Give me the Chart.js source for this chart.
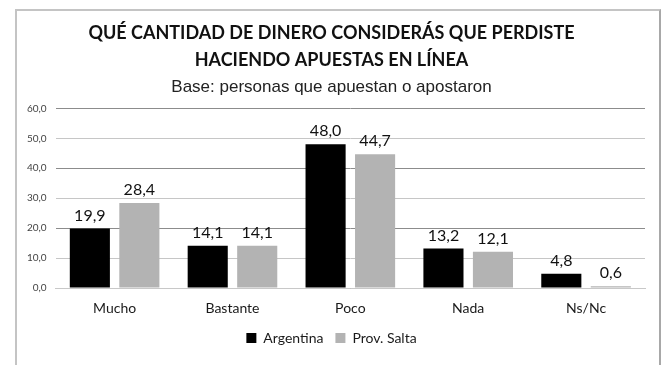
<!DOCTYPE html>
<html>
<head>
<meta charset="utf-8">
<script src="https://cdn.jsdelivr.net/npm/chart.js@4"></script>
<style>
  html, body { margin: 0; padding: 0; background: #fff; }
  #wrap { position: relative; width: 671px; height: 365px; }
  #frame {
    position: absolute; left: 15px; top: 9px; width: 642px; height: 360px;
    border-left: 2px solid #c4c4c4; border-top: 2px solid #c4c4c4; border-right: 2px solid #a8a8a8;
    pointer-events: none;
  }
</style>
</head>
<body>
<div id="wrap">
  <canvas id="chart" width="671" height="365"></canvas>
  <div id="frame"></div>
</div>
<script>
const categories = ["Mucho", "Bastante", "Poco", "Nada", "Ns/Nc"];
const argentina = [19.9, 14.1, 48.0, 13.2, 4.8];
const salta = [28.4, 14.1, 44.7, 12.1, 0.6];
const seriesNames = ["Argentina", "Prov. Salta"];
const titleLines = ["QUÉ CANTIDAD DE DINERO CONSIDERÁS QUE PERDISTE", "HACIENDO APUESTAS EN LÍNEA"];
const subtitleText = "Base: personas que apuestan o apostaron";

const fmt = v => v.toFixed(1).replace(".", ",");

// draws the value above each bar
const valueLabels = {
  id: "valueLabels",
  afterDatasetsDraw(chart) {
    const ctx = chart.ctx;
    ctx.save();
    ctx.font = "16px Lato";
    ctx.fillStyle = "#111";
    ctx.textAlign = "center";
    ctx.textBaseline = "bottom";
    chart.data.datasets.forEach((ds, i) => {
      chart.getDatasetMeta(i).data.forEach((bar, j) => {
        ctx.fillText(fmt(ds.data[j]), bar.x, bar.y - 5);
      });
    });
    ctx.restore();
  }
};

new Chart(document.getElementById("chart"), {
  type: "bar",
  data: {
    labels: categories,
    datasets: [
      { label: seriesNames[0], data: argentina, backgroundColor: "#000000" },
      { label: seriesNames[1], data: salta, backgroundColor: "#b3b3b3" }
    ]
  },
  options: {
    responsive: false,
    animation: false,
    devicePixelRatio: 1,
    categoryPercentage: 0.84,
    barPercentage: 0.81,
    layout: { padding: { left: 18, right: 26, top: 20, bottom: 10 } },
    scales: {
      x: {
        grid: { display: false, drawTicks: false },
        border: { color: "#c8c8c8" },
        ticks: { color: "#1a1a1a", font: { family: "Lato", size: 14 }, padding: 12 },
        afterFit: s => { s.height = 31; }
      },
      y: {
        min: 0, max: 60,
        ticks: {
          stepSize: 10,
          color: "#444",
          font: { family: "Lato", size: 10 },
          padding: 9,
          callback: v => fmt(v)
        },
        border: { display: false },
        grid: {
          color: c => (c.tick && c.tick.value % 20 === 0) ? "#8c8c8c" : "#c6c6c6",
          drawTicks: false
        }
      }
    },
    plugins: {
      title: {
        display: true,
        text: titleLines,
        color: "#111",
        font: { family: "Lato", size: 18, weight: "bold", lineHeight: 1.5 },
        padding: { top: 0, bottom: 3 }
      },
      subtitle: {
        display: true,
        text: subtitleText,
        color: "#222",
        font: { family: "Liberation Sans", size: 17 },
        padding: { top: 0, bottom: 11 }
      },
      legend: {
        position: "bottom",
        labels: {
          color: "#1a1a1a",
          font: { family: "Lato", size: 14 },
          boxWidth: 10, boxHeight: 10,
          padding: 12
        }
      },
      tooltip: { enabled: false }
    }
  },
  plugins: [valueLabels]
});
</script>
</body>
</html>
